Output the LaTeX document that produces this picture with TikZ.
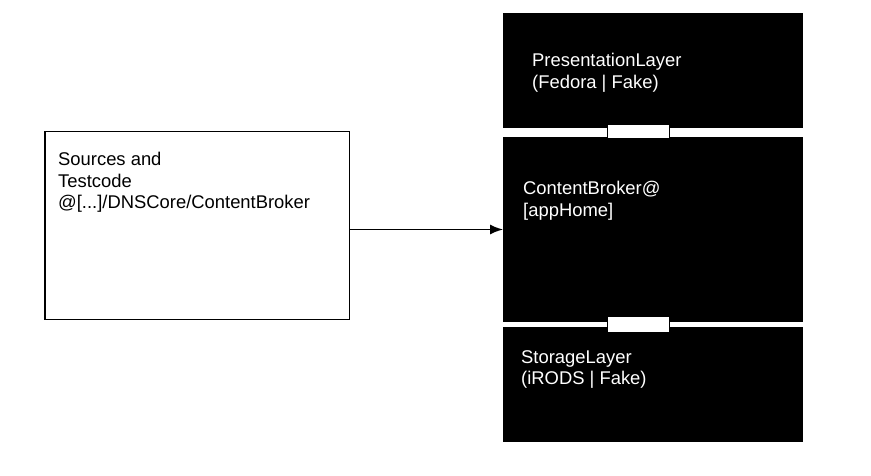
\documentclass[tikz,border=0pt]{standalone}
\usepackage{fontspec}
\setmainfont{Liberation Sans}
\usetikzlibrary{positioning,arrows.meta}
\begin{document}
\begin{tikzpicture}[x=1pt,y=1pt,
  layer/.style={fill=black,minimum width=300pt,minimum height=115pt,inner sep=0pt,outer sep=0pt},
  joint/.style={draw=black,fill=white,line width=1pt,minimum width=62pt,inner sep=0pt},
  txt/.style={anchor=north west,inner sep=0pt,align=left,font=\fontsize{18.4}{21.5}\selectfont}]
\useasboundingbox (0,0) rectangle (871,475);
\node[draw,line width=1.5pt,minimum width=304.5pt,minimum height=187.5pt,inner sep=0pt] (src) at (197,249.5) {};
\node[layer] (pres) at (653,404.5) {};
\node[layer,minimum height=185pt] (broker) at (653,245.5) {};
\node[layer] (store) at (653,90.5) {};
\node[joint,minimum height=14pt] (j1) at (638.5,343.5) {};
\node[joint,minimum height=16pt] (j2) at (638.5,150.5) {};
\node[txt,below right=21pt and 14pt of src.north west] (srctxt) {Sources and\\Testcode\\@[...]/DNSCore/ContentBroker};
\node[txt,white,below right=40pt and 29pt of pres.north west] (prestxt) {PresentationLayer\\(Fedora | Fake)};
\node[txt,white,below right=44pt and 20pt of broker.north west] (brokertxt) {ContentBroker@\\{[appHome]}};
\node[txt,white,below right=23pt and 18pt of store.north west] (storetxt) {StorageLayer\\(iRODS | Fake)};
\draw[line width=1.5pt,-{Latex[length=13pt,width=10pt]}] (src.east |- broker.west) -- (broker.west);
\end{tikzpicture}
\end{document}
